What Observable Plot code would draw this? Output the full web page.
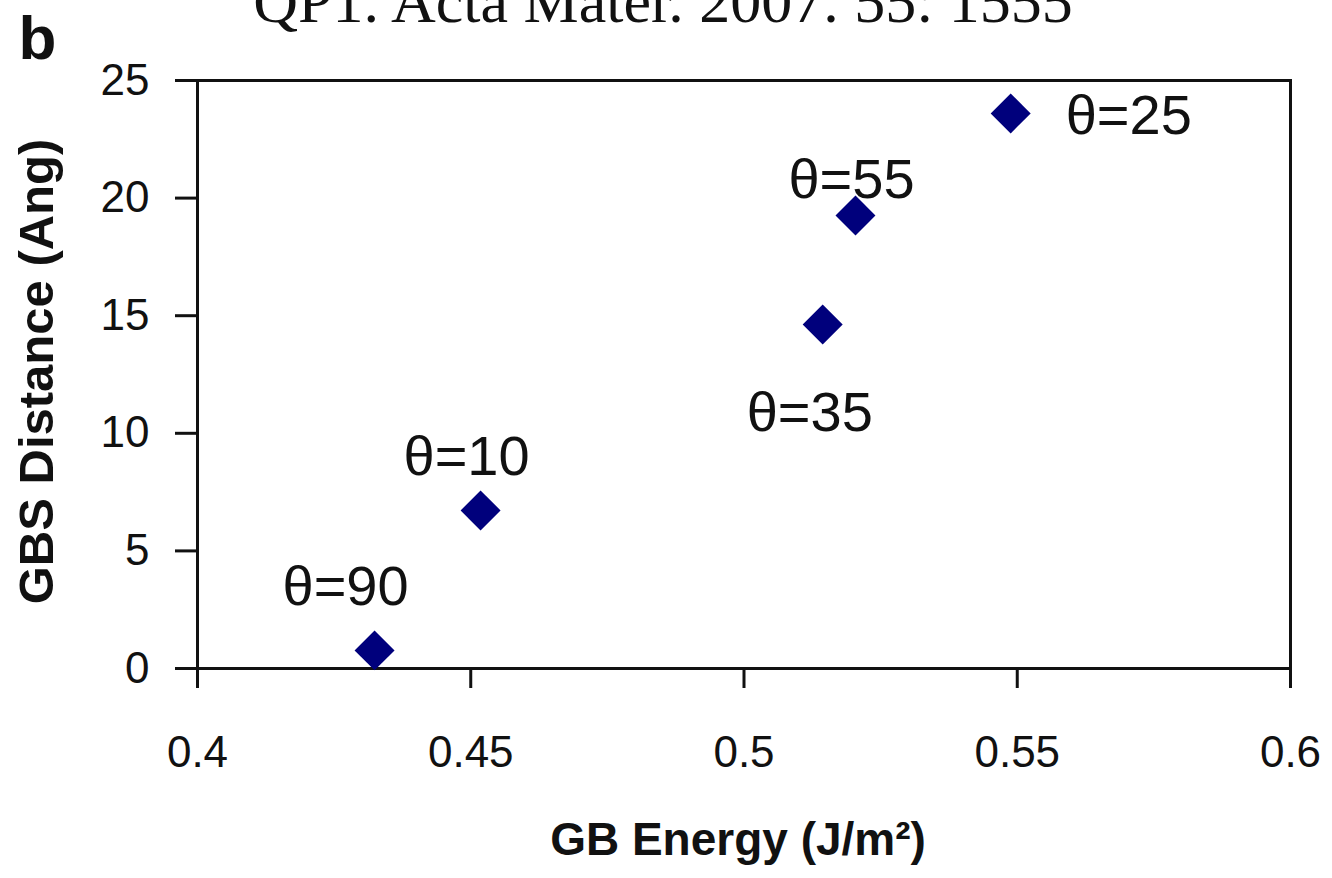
<!DOCTYPE html>
<html>
<head>
<meta charset="utf-8">
<script src="https://cdn.jsdelivr.net/npm/d3@7"></script>
<script src="https://cdn.jsdelivr.net/npm/@observablehq/plot@0.6"></script>
<style>
  html, body { margin: 0; padding: 0; background: #fff; }
  #chart { width: 1332px; height: 878px; overflow: hidden; }
</style>
</head>
<body>
<div id="chart"></div>
<script>
// ---- data ----
const thetas = [90, 10, 35, 55, 25];
const energy = [0.4324, 0.4518, 0.5144, 0.5204, 0.5488];   // GB Energy (J/m^2)
const distance = [0.77, 6.72, 14.63, 19.26, 23.6];         // GBS Distance (Ang)
const xTicks = [0.4, 0.45, 0.5, 0.55, 0.6];
const xTickLabels = ["0.4", "0.45", "0.5", "0.55", "0.6"];
const yTicks = [0, 5, 10, 15, 20, 25];
const yTickLabels = ["0", "5", "10", "15", "20", "25"];
const titleText = "QP1. Acta Mater. 2007. 55: 1555";
const panelText = "b";
const xLabel = "GB Energy (J/m\u00B2)";
const yLabel = "GBS Distance (Ang)";

const points = thetas.map((t, i) => ({theta: t, label: "\u03B8=" + t, energy: energy[i], distance: distance[i]}));

const navy = "#00007c";
const labelFont = 56;

function pointLabel(theta, dx, dy, anchor = "middle") {
  return Plot.text(points.filter(d => d.theta === theta), {
    x: "energy", y: "distance", text: "label",
    dx, dy, textAnchor: anchor, lineAnchor: "middle", fontSize: labelFont, fill: "#111"
  });
}

const chart = Plot.plot({
  width: 1332,
  height: 878,
  marginLeft: 197,
  marginRight: 42,
  marginTop: 80,
  marginBottom: 210,
  style: {fontFamily: "'Liberation Sans', Arial, Helvetica, sans-serif", color: "#111", background: "white"},
  x: {domain: [0.4, 0.6]},
  y: {domain: [0, 25]},
  marks: [
    Plot.axisX({
      ticks: xTicks, tickFormat: (d, i) => xTickLabels[i],
      tickSize: 20, tickPadding: 47, fontSize: 44, strokeWidth: 3, label: null
    }),
    Plot.axisY({
      ticks: yTicks, tickFormat: (d, i) => yTickLabels[i],
      tickSize: 22, tickPadding: 26, fontSize: 44, strokeWidth: 3, label: null
    }),
    Plot.frame({stroke: "#111", strokeWidth: 3}),
    Plot.dot(points, {x: "energy", y: "distance", symbol: "diamond2", r: 18, fill: navy, stroke: "none"}),
    pointLabel(90, -29, -63),
    pointLabel(10, -14, -53),
    pointLabel(35, -13, 89),
    pointLabel(55, -4, -35),
    pointLabel(25, 55, 3, "start"),
    // axis titles
    Plot.text([xLabel], {frameAnchor: "bottom", textAnchor: "middle", lineAnchor: "middle", dx: -6, dy: 172, fontSize: 46, fontWeight: "bold", fill: "#111"}),
    Plot.text([yLabel], {frameAnchor: "left", textAnchor: "middle", lineAnchor: "middle", rotate: -90, dx: -160, dy: -3, fontSize: 49, fontWeight: "bold", fill: "#111"}),
    // panel letter and (clipped) title
    Plot.text([panelText], {frameAnchor: "top-left", textAnchor: "start", lineAnchor: "middle", dx: -179, dy: -41, fontSize: 62, fontWeight: "bold", fill: "#111"}),
    Plot.text([titleText], {frameAnchor: "top", textAnchor: "middle", lineAnchor: "middle", dx: -81, dy: -78, fontSize: 62, fontFamily: "'Liberation Serif', 'Times New Roman', serif", fill: "#111"})
  ]
});
document.getElementById("chart").appendChild(chart);
</script>
</body>
</html>
